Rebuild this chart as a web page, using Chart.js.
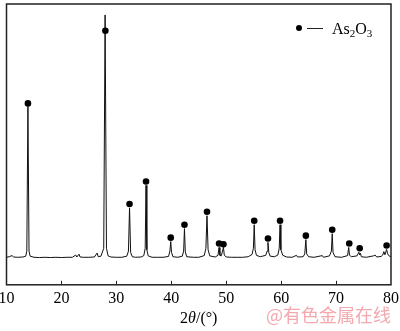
<!DOCTYPE html>
<html>
<head>
<meta charset="utf-8">
<script src="https://cdn.jsdelivr.net/npm/chart.js@4.4.1/dist/chart.umd.min.js"></script>
<style>
  html, body { margin: 0; padding: 0; background: #fff; }
  #wrap { width: 400px; height: 331px; }
</style>
</head>
<body>
<div id="wrap"><canvas id="xrd"></canvas></div>
<script>
// XRD scan: 2theta (deg) and relative intensity
const scanAngle = [10.0, 10.5, 11.0, 11.3, 12.0, 13.0, 13.5, 13.7, 13.9, 14.1, 14.3, 15.0, 16.0, 17.0, 18.0, 19.0, 20.0, 21.0, 22.0, 22.6, 22.8, 23.2, 23.4, 24.0, 25.0, 26.0, 26.5, 26.7, 27.2, 27.7, 27.95, 28.2, 28.5, 29.0, 30.0, 31.0, 31.9, 32.2, 32.4, 32.6, 32.9, 33.5, 34.5, 35.0, 35.25, 35.4, 35.55, 35.8, 36.5, 37.5, 38.5, 39.5, 39.75, 39.9, 40.05, 40.3, 41.2, 42.0, 42.25, 42.4, 42.55, 42.8, 44.0, 45.0, 46.0, 46.3, 46.5, 46.7, 47.0, 48.0, 48.5, 48.7, 48.85, 49.1, 49.5, 49.65, 50.0, 51.0, 52.0, 53.0, 54.0, 54.7, 54.95, 55.1, 55.25, 55.5, 56.2, 57.2, 57.45, 57.6, 57.75, 58.0, 58.8, 59.4, 59.65, 59.8, 59.95, 60.3, 61.0, 62.0, 62.8, 63.0, 64.0, 64.3, 64.5, 64.65, 65.0, 66.0, 67.5, 67.7, 68.8, 69.15, 69.3, 69.45, 69.8, 71.0, 72.1, 72.3, 72.45, 72.8, 73.8, 74.15, 74.3, 74.45, 74.6, 75.5, 76.8, 77.1, 77.4, 78.2, 78.5, 78.7, 78.9, 79.2, 79.4, 79.7, 80.0];
const scanIntensity = [9.8, 10.0, 10.4, 9.9, 9.8, 9.9, 10.2, 12.0, 63.5, 12.0, 10.2, 9.8, 9.7, 9.8, 9.7, 9.8, 9.7, 9.8, 9.8, 10.6, 9.9, 10.9, 9.9, 9.8, 9.8, 9.9, 11.3, 10.0, 10.2, 13.0, 96.1, 13.0, 10.3, 9.9, 9.8, 9.8, 10.2, 12.0, 27.4, 11.5, 10.0, 9.8, 9.9, 10.4, 13.0, 35.4, 12.5, 10.3, 9.8, 9.8, 9.8, 10.1, 12.0, 15.4, 11.5, 10.0, 9.8, 10.2, 12.0, 20.0, 11.8, 10.0, 9.8, 9.8, 10.4, 13.0, 24.6, 12.5, 10.3, 9.9, 10.5, 13.3, 10.5, 10.3, 13.3, 10.6, 9.9, 9.8, 9.8, 9.8, 10.0, 10.8, 13.0, 21.4, 12.5, 10.5, 10.0, 10.5, 12.0, 15.1, 11.5, 10.2, 10.0, 10.6, 13.0, 21.4, 12.5, 10.5, 9.9, 9.8, 10.5, 9.9, 10.0, 11.0, 16.1, 11.0, 10.0, 9.8, 10.4, 9.8, 10.3, 12.0, 18.2, 11.5, 10.0, 9.8, 10.4, 13.3, 10.5, 10.0, 10.3, 11.6, 10.6, 11.2, 10.0, 9.8, 10.3, 10.6, 9.9, 10.1, 10.6, 11.8, 10.7, 12.6, 11.0, 10.2, 10.0];

// As2O3 reflections marked with a dot
const markAngle = [13.9, 28.0, 32.4, 35.4, 39.9, 42.4, 46.5, 48.7, 49.5, 55.1, 57.6, 59.8, 64.5, 69.3, 72.4, 74.3, 79.2];
const markIntensity = [64.6, 90.5, 28.8, 36.8, 16.8, 21.4, 26.0, 14.7, 14.4, 22.8, 16.5, 22.8, 17.5, 19.6, 14.7, 13.0, 14.0];

const xTicks = [10, 20, 30, 40, 50, 60, 70, 80];
const legendLabel = ["As", "2", "O", "3"];
const axisTitle = ["2", "θ", "/(°)"];
const watermark = "@有色金属在线";

const serif = '"Liberation Serif", "Times New Roman", serif';

const framePlugin = {
  id: "frame",
  afterDraw(chart) {
    const { ctx, chartArea: a, scales } = chart;
    ctx.save();
    // box
    ctx.strokeStyle = "#222";
    ctx.lineWidth = 1.5;
    ctx.strokeRect(a.left, a.top, a.right - a.left, a.bottom - a.top);
    // inward ticks
    ctx.lineWidth = 1;
    xTicks.slice(1, -1).forEach(v => {
      const px = Math.round(scales.x.getPixelForValue(v)) + 0.5;
      ctx.beginPath();
      ctx.moveTo(px, a.bottom);
      ctx.lineTo(px, a.bottom - 4);
      ctx.stroke();
    });
    // legend
    const lx = a.right - 92, ly = a.top + 24;
    ctx.fillStyle = "#000";
    ctx.beginPath();
    ctx.arc(lx, ly, 3, 0, Math.PI * 2);
    ctx.fill();
    ctx.beginPath();
    ctx.moveTo(lx + 8, ly + 0.5);
    ctx.lineTo(lx + 24, ly + 0.5);
    ctx.stroke();
    ctx.textBaseline = "alphabetic";
    let tx = lx + 33;
    legendLabel.forEach((s, i) => {
      const sub = i % 2 === 1;
      ctx.font = (sub ? "11px " : "16px ") + serif;
      ctx.fillText(s, tx, ly + (sub ? 9 : 6));
      tx += ctx.measureText(s).width;
    });
    // axis title
    const parts = axisTitle.map((s, i) => ({ s, f: (i === 1 ? "italic " : "") + "16px " + serif }));
    let w = 0;
    parts.forEach(p => { ctx.font = p.f; w += ctx.measureText(p.s).width; });
    let ax = (a.left + a.right) / 2 - w / 2;
    const ay = a.bottom + 38;
    parts.forEach(p => {
      ctx.font = p.f;
      ctx.fillText(p.s, ax, ay);
      ax += ctx.measureText(p.s).width;
    });
    // watermark
    ctx.font = '18px "Noto Sans CJK SC", sans-serif';
    ctx.fillStyle = "rgba(238, 130, 140, 0.7)";
    ctx.textAlign = "right";
    ctx.fillText(watermark, a.right, a.bottom + 37);
    ctx.restore();
  }
};

new Chart(document.getElementById("xrd"), {
  type: "line",
  data: {
    datasets: [
      {
        label: "scan",
        data: scanAngle.map((x, i) => ({ x, y: scanIntensity[i] })),
        borderColor: "#111",
        borderWidth: 1,
        pointRadius: 0,
        tension: 0,
        order: 2
      },
      {
        label: "As2O3",
        data: markAngle.map((x, i) => ({ x, y: markIntensity[i] })),
        showLine: false,
        pointRadius: 3.3,
        pointBackgroundColor: "#000",
        pointBorderWidth: 0,
        order: 1
      }
    ]
  },
  options: {
    responsive: true,
    maintainAspectRatio: false,
    animation: false,
    layout: { padding: { top: 1, right: 9, left: 6.5, bottom: 19 } },
    plugins: { legend: { display: false }, tooltip: { enabled: false } },
    scales: {
      x: {
        type: "linear",
        min: 10,
        max: 80,
        afterBuildTicks: s => { s.ticks = xTicks.map(v => ({ value: v })); },
        afterFit: s => { s.paddingLeft = 0; s.paddingRight = 0; },
        grid: { display: false, drawTicks: false },
        border: { display: false },
        ticks: { color: "#000", padding: 4, maxRotation: 0, font: { family: serif, size: 16 } }
      },
      y: { display: false, min: 0, max: 100 }
    }
  },
  plugins: [framePlugin]
});
</script>
</body>
</html>
